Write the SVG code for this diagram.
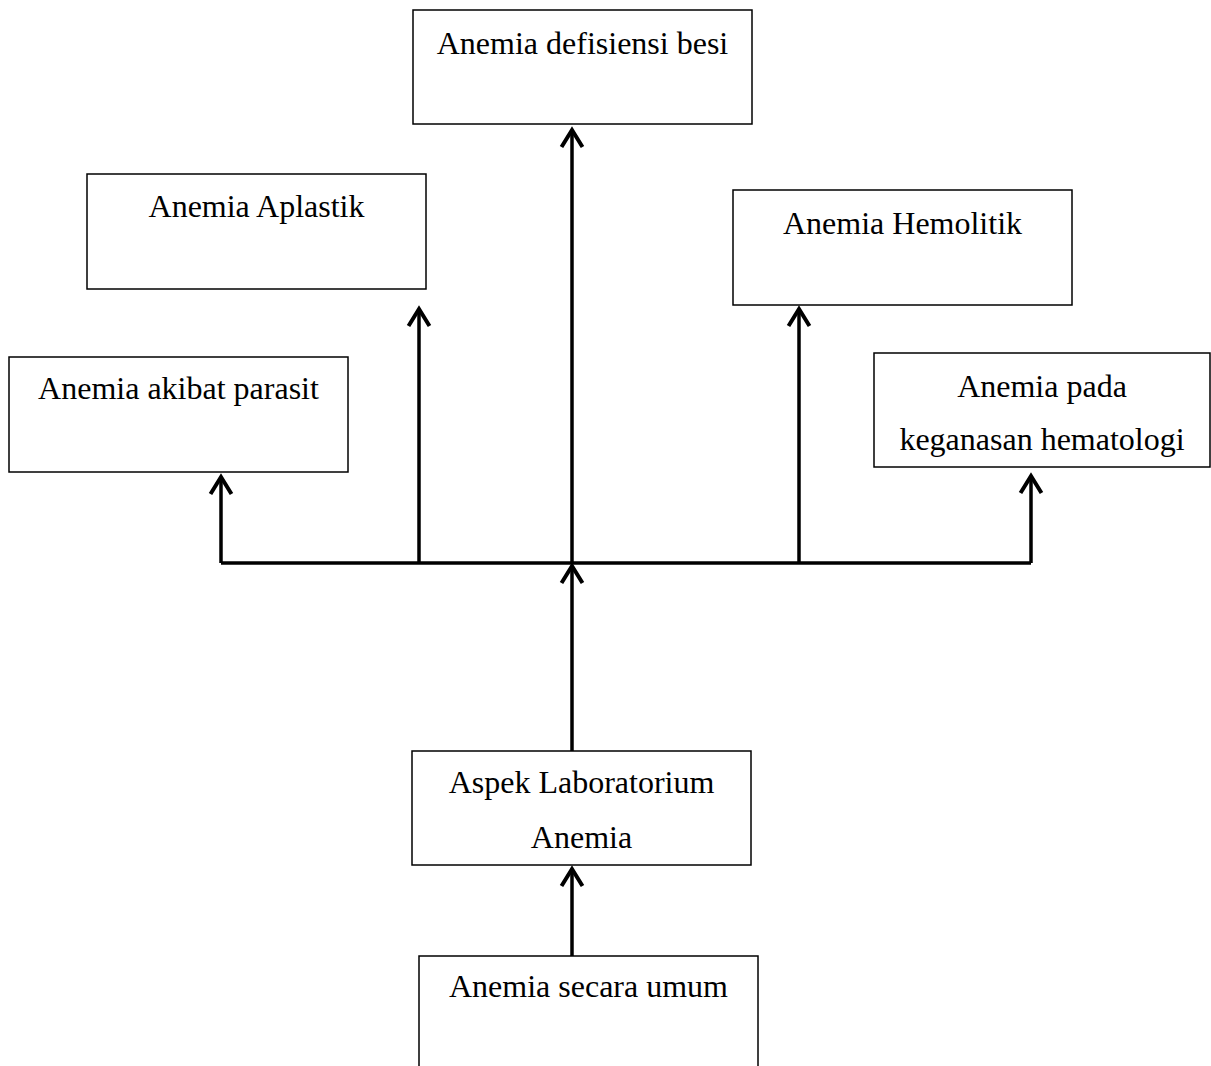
<svg xmlns="http://www.w3.org/2000/svg" width="1211" height="1066" viewBox="0 0 1211 1066">
<style>
.box{fill:#fff;stroke:#000;stroke-width:1.5}
.t{font-family:"Liberation Serif","Times New Roman",serif;font-size:32px;fill:#000;text-anchor:middle}
.ln{fill:none;stroke:#000;stroke-width:3.5}
</style>
<defs>
<marker id="ah" markerUnits="userSpaceOnUse" markerWidth="30" markerHeight="30" refX="21" refY="15" orient="auto" viewBox="0 0 30 30">
<path d="M4,4.5 L21,15 L4,25.5" fill="none" stroke="#000" stroke-width="4"/>
</marker>
</defs>
<rect width="1211" height="1066" fill="#fff"/>
<g id="n-defisiensi">
<rect class="box" x="413" y="10" width="339" height="114"/>
<text class="t" x="582.5" y="54">Anemia defisiensi besi</text>
</g>
<g id="n-aplastik">
<rect class="box" x="87" y="174" width="339" height="115"/>
<text class="t" x="256.5" y="217">Anemia Aplastik</text>
</g>
<g id="n-parasit">
<rect class="box" x="9" y="357" width="339" height="115"/>
<text class="t" x="178.5" y="399">Anemia akibat parasit</text>
</g>
<g id="n-hemolitik">
<rect class="box" x="733" y="190" width="339" height="115"/>
<text class="t" x="902.5" y="234">Anemia Hemolitik</text>
</g>
<g id="n-keganasan">
<rect class="box" x="874" y="353" width="336" height="114"/>
<text class="t" x="1042" y="397">Anemia pada</text>
<text class="t" x="1042" y="450">keganasan hematologi</text>
</g>
<g id="n-aspek">
<rect class="box" x="412" y="751" width="339" height="114"/>
<text class="t" x="581.5" y="793">Aspek Laboratorium</text>
<text class="t" x="581.5" y="848">Anemia</text>
</g>
<g id="n-umum">
<rect class="box" x="419" y="956" width="339" height="120"/>
<text class="t" x="588.5" y="997">Anemia secara umum</text>
</g>
<g id="connectors">
<path class="ln" d="M221,563 H1031"/>
<path class="ln" d="M572,563 V130" marker-end="url(#ah)"/>
<path class="ln" d="M221,563 V477" marker-end="url(#ah)"/>
<path class="ln" d="M419,563 V309" marker-end="url(#ah)"/>
<path class="ln" d="M799,563 V309" marker-end="url(#ah)"/>
<path class="ln" d="M1031,563 V476" marker-end="url(#ah)"/>
<path class="ln" d="M572,751 V566" marker-end="url(#ah)"/>
<path class="ln" d="M572,956 V869" marker-end="url(#ah)"/>
</g>
</svg>
